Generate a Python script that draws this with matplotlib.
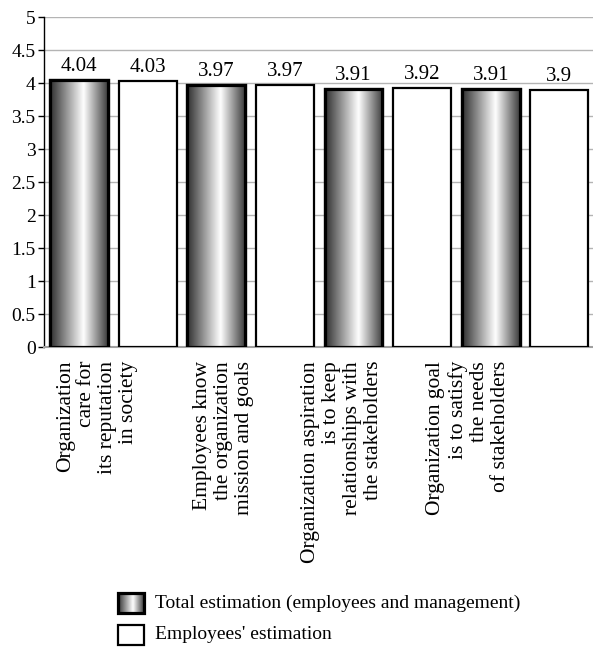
import numpy as np
import matplotlib.pyplot as plt
from matplotlib.colors import LinearSegmentedColormap
from matplotlib.patches import Rectangle

# Datos: promedio de cada afirmación, total vs. empleados
total = [4.04, 3.97, 3.91, 3.91]
empleados = [4.03, 3.97, 3.92, 3.90]
etiquetas = [
    "Organization\ncare for\nits reputation\nin society",
    "Employees know\nthe organization\nmission and goals",
    "Organization aspiration\nis to keep\nrelationships with\nthe stakeholders",
    "Organization goal\nis to satisfy\nthe needs\nof stakeholders",
]
leyenda = ["Total estimation (employees and management)", "Employees' estimation"]

plt.rcParams["font.family"] = ["Liberation Serif", "DejaVu Serif"]

# degradado gris-blanco-gris de las barras "total"
gris = LinearSegmentedColormap.from_list(
    "gris", [(0, "#2e2e2e"), (0.58, "#ffffff"), (1, "#3c3c3c")])
grad = np.linspace(0, 1, 256).reshape(1, -1)

fig = plt.figure(figsize=(5.93, 6.59), dpi=100)
ax = fig.add_axes([0.0742, 0.4734, 0.9258, 0.5008])

ancho = 0.845
valores = []
for t, e in zip(total, empleados):
    valores += [t, e]
x = np.arange(len(valores))

barras = ax.bar(x, valores, width=ancho, color="white", edgecolor="black", zorder=3)
for i, b in enumerate(barras):
    if i % 2 == 0:
        b.set_linewidth(2.3)
        x0, w, h = b.get_x(), b.get_width(), b.get_height()
        img = ax.imshow(grad, cmap=gris, aspect="auto", extent=[x0, x0 + w, 0, h],
                        zorder=3.5, interpolation="bicubic")
        img.set_clip_path(b)
        borde = Rectangle((x0, 0), w, h, fill=False, edgecolor="black", lw=2.3, zorder=4)
        ax.add_patch(borde)
    else:
        b.set_linewidth(1.6)
    ax.text(b.get_x() + b.get_width() / 2, b.get_height() + 0.06, f"{valores[i]:g}",
            ha="center", va="bottom", fontsize=15, zorder=5)

ax.set_xlim(-0.51, 7.49)
ax.set_ylim(0, 5)
ax.set_yticks(np.arange(0, 5.01, 0.5))
ax.set_yticklabels([f"{v:g}" for v in np.arange(0, 5.01, 0.5)], fontsize=14)
ax.yaxis.grid(True, color="#b4b4b4", lw=1.0, zorder=0)
ax.set_axisbelow(True)
for s in ["top", "right"]:
    ax.spines[s].set_visible(False)
ax.spines["bottom"].set_color("#a0a0a0")
ax.spines["bottom"].set_linewidth(1.5)
ax.spines["left"].set_linewidth(1.0)
ax.tick_params(axis="y", length=4, width=1.0, pad=2)
ax.tick_params(axis="x", length=0)

# etiquetas de categoría verticales, alineadas arriba
pos_etiquetas = [0.26, 2.10, 3.83, 5.67]
ax.set_xticks(pos_etiquetas)
ax.set_xticklabels(etiquetas, rotation=90, ha="center", va="top", fontsize=15.5,
                   multialignment="right", linespacing=1.15)
ax.tick_params(axis="x", pad=10)

# leyenda dibujada a mano (degradado en el cuadro)
lax = fig.add_axes([0, 0, 1, 0.12])
lax.axis("off")
lax.imshow(grad, cmap=gris, aspect="auto", extent=[118, 144, 33, 13],
           interpolation="bicubic", zorder=1)
lax.add_patch(Rectangle((118, 13), 26, 20, fill=False, edgecolor="black", lw=2.3, zorder=2))
lax.add_patch(Rectangle((118, 45), 26, 20, facecolor="white", edgecolor="black", lw=1.6))
lax.text(155, 23, leyenda[0], va="center", ha="left", fontsize=14)
lax.text(155, 55, leyenda[1], va="center", ha="left", fontsize=14)
lax.set_xlim(0, 593)
lax.set_ylim(79, 0)

fig.savefig("out.png", dpi=100)
